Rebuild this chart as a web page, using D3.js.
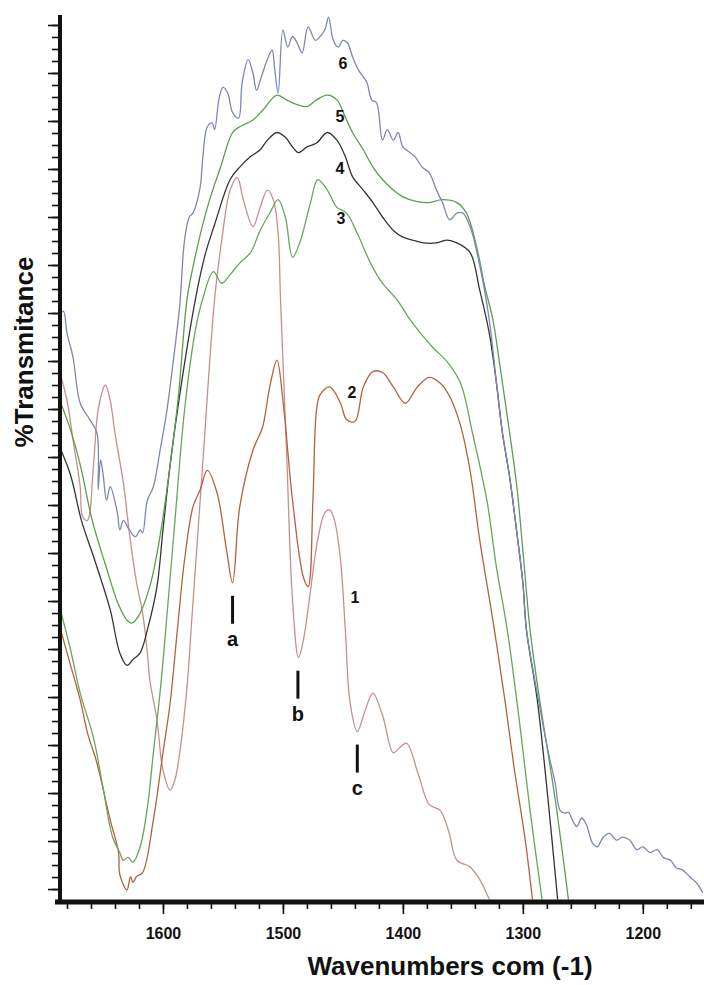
<!DOCTYPE html>
<html>
<head>
<meta charset="utf-8">
<script src="https://cdn.jsdelivr.net/npm/d3@7"></script>
<style>
  body { margin: 0; background: #fff; }
  svg { display: block; font-family: "Liberation Sans", Arial, sans-serif; }
</style>
</head>
<body>
<div id="chart"></div>
<script>
// wavenumber (cm-1), %T
var spectrum1 = [[1686,53.8],[1680,50.9],[1675,46.8],[1669,41.9],[1667,38.8],[1663,38.4],[1658,44.0],[1654,49.9],[1648,52.5],[1644,50.9],[1640,47.5],[1633,42.3],[1628,37.1],[1622,31.9],[1617,28.8],[1613,24.6],[1611,21.8],[1605,17.6],[1600,12.4],[1594,10.3],[1590,11.4],[1586,14.2],[1580,21.0],[1576,28.0],[1567,44.0],[1557,61.4],[1551,67.6],[1544,72.8],[1538,74.1],[1533,71.8],[1525,69.0],[1519,71.0],[1513,72.8],[1508,71.8],[1504,68.3],[1502,61.4],[1497,45.7],[1492,30.1],[1487,24.1],[1483,25.9],[1477,31.1],[1471,36.4],[1465,39.2],[1461,39.5],[1457,38.4],[1452,34.3],[1448,27.0],[1444,19.4],[1438,16.4],[1432,18.4],[1425,20.4],[1417,18.1],[1408,14.2],[1403,14.7],[1397,15.2],[1387,11.9],[1378,8.8],[1369,8.2],[1362,6.1],[1355,3.0],[1344,2.3],[1336,1.0],[1328,-1.1]];

var spectrum2 = [[1686,27.3],[1677,23.3],[1669,19.7],[1663,16.3],[1655,13.1],[1644,7.2],[1637,3.8],[1636,1.5],[1630,-0.1],[1627,1.3],[1625,0.7],[1622,1.3],[1617,1.7],[1608,7.2],[1600,14.2],[1594,19.4],[1588,27.0],[1582,34.3],[1575,39.8],[1569,41.6],[1563,43.6],[1555,41.3],[1547,35.3],[1542,31.9],[1536,39.8],[1525,45.7],[1517,48.1],[1511,52.3],[1505,55.1],[1500,50.9],[1492,40.5],[1483,32.5],[1479,31.5],[1475,40.5],[1472,49.9],[1469,51.5],[1461,52.3],[1452,50.6],[1447,48.9],[1440,48.7],[1433,52.3],[1425,53.9],[1417,53.8],[1408,52.3],[1398,50.6],[1388,52.3],[1378,53.3],[1369,52.7],[1361,51.3],[1352,48.3],[1344,43.6],[1336,36.4],[1325,28.0],[1315,19.7],[1307,12.4],[1298,5.1],[1292,-1.1]];

var spectrum3 = [[1686,29.3],[1677,24.9],[1669,20.4],[1658,15.8],[1650,10.6],[1642,5.4],[1636,3.8],[1633,3.0],[1629,3.3],[1625,2.8],[1619,4.4],[1613,8.5],[1608,14.2],[1602,21.0],[1597,28.0],[1590,38.4],[1582,49.9],[1573,58.2],[1567,61.4],[1558,64.3],[1551,63.1],[1544,64.0],[1536,65.2],[1527,66.3],[1519,68.6],[1511,70.4],[1504,71.8],[1498,70.0],[1492,65.8],[1486,67.3],[1477,71.5],[1471,73.9],[1463,72.8],[1455,71.0],[1447,70.4],[1438,68.3],[1427,65.2],[1417,63.1],[1405,61.4],[1394,59.3],[1386,58.0],[1375,56.4],[1363,54.9],[1352,52.7],[1342,47.5],[1330,40.5],[1322,33.5],[1313,27.0],[1302,16.6],[1294,8.2],[1284,-1.1]];

var spectrum4 = [[1686,46.0],[1677,43.1],[1668,38.4],[1657,34.3],[1644,29.1],[1636,24.6],[1630,23.3],[1625,23.9],[1619,24.6],[1613,27.0],[1605,31.5],[1600,37.4],[1594,44.2],[1586,51.5],[1573,61.4],[1565,66.0],[1557,69.2],[1544,73.9],[1536,75.2],[1527,76.3],[1519,77.0],[1513,78.0],[1505,78.8],[1498,78.3],[1492,77.3],[1487,76.7],[1480,77.3],[1472,77.7],[1463,78.8],[1455,78.0],[1448,76.3],[1442,74.2],[1433,72.8],[1425,71.5],[1417,70.0],[1408,68.6],[1400,67.9],[1392,67.6],[1383,67.3],[1372,67.3],[1363,67.6],[1355,67.3],[1344,66.3],[1336,62.4],[1328,57.9],[1322,52.7],[1317,47.5],[1311,42.9],[1305,37.1],[1300,31.9],[1297,27.0],[1288,19.7],[1279,9.3],[1271,-1.1]];

var spectrum5 = [[1686,50.9],[1677,47.8],[1669,44.2],[1659,38.4],[1648,33.8],[1637,29.6],[1630,28.0],[1626,27.7],[1621,28.3],[1611,31.5],[1602,37.1],[1594,44.2],[1587,51.5],[1580,61.4],[1575,64.8],[1563,71.0],[1552,75.2],[1542,78.8],[1536,79.4],[1525,80.1],[1517,81.1],[1505,82.7],[1497,82.2],[1488,81.7],[1480,81.5],[1472,82.2],[1463,82.7],[1455,82.2],[1448,80.4],[1442,78.8],[1433,77.0],[1425,75.2],[1417,73.9],[1408,72.8],[1400,72.1],[1388,71.6],[1378,71.5],[1367,71.8],[1355,71.5],[1347,70.4],[1338,66.6],[1332,62.9],[1325,59.3],[1319,54.4],[1311,47.5],[1305,41.9],[1300,35.3],[1294,27.0],[1286,19.7],[1273,9.3],[1262,-1.1]];

var spectrum6 = [[1686,59.8],[1683,60.2],[1680,57.9],[1675,55.4],[1669,50.6],[1661,48.9],[1655,47.5],[1654,41.6],[1652,44.7],[1650,43.3],[1647,40.5],[1644,41.9],[1638,39.2],[1636,37.4],[1633,38.4],[1628,37.4],[1623,36.7],[1619,37.4],[1617,37.1],[1613,40.5],[1608,41.9],[1602,46.0],[1597,49.6],[1592,54.4],[1586,60.8],[1582,67.6],[1578,70.0],[1575,70.4],[1569,73.1],[1567,75.9],[1563,79.4],[1559,79.8],[1557,79.1],[1553,82.5],[1550,83.5],[1546,82.9],[1542,80.9],[1537,80.3],[1534,84.0],[1529,86.4],[1525,85.0],[1522,83.2],[1518,84.6],[1513,86.4],[1509,87.4],[1507,85.6],[1504,82.9],[1500,89.5],[1496,87.7],[1492,88.8],[1488,88.1],[1484,87.1],[1479,89.8],[1473,88.4],[1469,88.8],[1465,89.5],[1462,90.8],[1458,88.4],[1454,87.7],[1450,88.4],[1446,88.1],[1442,86.7],[1437,85.3],[1433,84.6],[1430,84.0],[1426,82.2],[1422,81.9],[1417,78.0],[1413,79.1],[1408,78.0],[1404,78.8],[1400,77.3],[1394,76.7],[1390,76.3],[1384,75.2],[1378,74.6],[1372,72.8],[1367,71.5],[1361,69.7],[1355,70.4],[1350,70.4],[1344,69.0],[1336,65.0],[1328,59.3],[1322,52.7],[1317,47.5],[1311,42.9],[1305,37.1],[1300,31.9],[1297,27.0],[1287,19.7],[1282,16.3],[1278,13.8],[1273,11.0],[1269,8.2],[1265,7.9],[1262,8.0],[1258,7.0],[1255,6.5],[1251,7.4],[1247,6.7],[1242,4.8],[1238,4.4],[1233,5.4],[1228,5.8],[1222,5.1],[1217,5.4],[1211,5.1],[1205,4.1],[1200,4.4],[1194,3.8],[1188,4.1],[1183,3.3],[1177,3.0],[1172,2.2],[1167,2.0],[1161,1.3],[1155,0.6],[1150,-0.4]];

var spectra = [spectrum1, spectrum2, spectrum3, spectrum4, spectrum5, spectrum6];
var spectrumNames = ["1", "2", "3", "4", "5", "6"];
var spectrumColors = ["#c98e8c", "#b4613e", "#69a55a", "#2f372f", "#5e9c4f", "#7c87b4"];
// where the curve numbers sit (wavenumber, %T)
var nameLabelPos = [[1440,30.4],[1442.5,51.8],[1451.7,69.9],[1452.5,75.1],[1452.5,80.5],[1450,86.0]];

// marked bands a, b, c (wavenumber, %T at the minimum)
var bandNames = ["a", "b", "c"];
var bandPos = [[1542,31.9],[1487.5,24.1],[1438,16.4]];

var xMajorTicks = [1600, 1500, 1400, 1300, 1200];
var xMinorTicks = d3.range(1680, 1150, -20);
var yMajorTicks = d3.range(0, 90.1, 5);
var yMinorTicks = d3.range(0, 90.1, 1.25);

var width = 704, height = 985;

var svg = d3.select("#chart").append("svg")
    .attr("width", width)
    .attr("height", height);

var x = d3.scaleLinear().domain([1690, 1149]).range([55, 704]);
var y = d3.scaleLinear().domain([-1.35, 91.04]).range([902, 15]);

// clip so the curves stop on the axis
svg.append("defs").append("clipPath").attr("id", "plot")
    .append("rect").attr("x", 61).attr("y", 0).attr("width", 650).attr("height", 900);

var line = d3.line()
    .x(d => x(d[0]))
    .y(d => y(d[1]))
    .curve(d3.curveCatmullRom.alpha(0.5));

svg.append("g")
    .attr("clip-path", "url(#plot)")
    .selectAll("path")
    .data(spectra)
    .enter()
    .append("path")
    .attr("d", d => line(d))
    .attr("fill", "none")
    .attr("stroke", (d, i) => spectrumColors[i])
    .attr("stroke-width", 1.3);

// curve numbers
svg.append("g")
    .selectAll("text")
    .data(nameLabelPos)
    .enter()
    .append("text")
    .attr("x", d => x(d[0]))
    .attr("y", d => y(d[1]) + 6)
    .attr("text-anchor", "middle")
    .attr("font-size", 16)
    .attr("font-weight", "bold")
    .attr("fill", "#111")
    .text((d, i) => spectrumNames[i]);

// band markers
var bands = svg.append("g");
bands.selectAll("line")
    .data(bandPos)
    .enter()
    .append("line")
    .attr("x1", d => x(d[0]))
    .attr("x2", d => x(d[0]))
    .attr("y1", d => y(d[1]) + 13)
    .attr("y2", d => y(d[1]) + 41)
    .attr("stroke", "#111")
    .attr("stroke-width", 3);
bands.selectAll("text")
    .data(bandPos)
    .enter()
    .append("text")
    .attr("x", d => x(d[0]))
    .attr("y", d => y(d[1]) + 63)
    .attr("text-anchor", "middle")
    .attr("font-size", 20)
    .attr("font-weight", "bold")
    .attr("fill", "#111")
    .text((d, i) => bandNames[i]);

// y axis: minor and major ticks, no labels
svg.append("g")
    .attr("transform", "translate(60,0)")
    .call(d3.axisLeft(y).tickValues(yMinorTicks).tickSize(8).tickSizeOuter(0).tickFormat(""))
    .call(g => g.select(".domain").remove())
    .selectAll("line").attr("stroke", "#111").attr("stroke-width", 1.6);
svg.append("g")
    .attr("transform", "translate(60,0)")
    .call(d3.axisLeft(y).tickValues(yMajorTicks).tickSize(12).tickSizeOuter(0).tickFormat(""))
    .call(g => g.select(".domain").remove())
    .selectAll("line").attr("stroke", "#111").attr("stroke-width", 1.6);
svg.append("line")
    .attr("x1", 60).attr("x2", 60)
    .attr("y1", 15).attr("y2", 904)
    .attr("stroke", "#111")
    .attr("stroke-width", 4);

// x axis
svg.append("g")
    .attr("transform", "translate(0,902)")
    .call(d3.axisBottom(x).tickValues(xMinorTicks).tickSize(7).tickSizeOuter(0).tickFormat(""))
    .call(g => g.select(".domain").remove())
    .selectAll("line").attr("stroke", "#111").attr("stroke-width", 1.6);
var xAxis = svg.append("g")
    .attr("transform", "translate(0,902)")
    .call(d3.axisBottom(x).tickValues(xMajorTicks).tickSize(12).tickSizeOuter(0).tickPadding(14).tickFormat(d3.format("d")));
xAxis.select(".domain").remove();
xAxis.selectAll("line").attr("stroke", "#111").attr("stroke-width", 1.6);
xAxis.selectAll("text")
    .attr("font-family", "Liberation Sans, Arial, sans-serif")
    .attr("font-size", 16)
    .attr("font-weight", "bold")
    .attr("fill", "#111");
svg.append("line")
    .attr("x1", 55).attr("x2", 704)
    .attr("y1", 902).attr("y2", 902)
    .attr("stroke", "#111")
    .attr("stroke-width", 5);

// titles
svg.append("text")
    .attr("x", 450)
    .attr("y", 975)
    .attr("text-anchor", "middle")
    .attr("font-size", 26)
    .attr("font-weight", "bold")
    .attr("fill", "#111")
    .text("Wavenumbers com (-1)");

svg.append("text")
    .attr("transform", "translate(33,352) rotate(-90)")
    .attr("text-anchor", "middle")
    .attr("font-size", 26)
    .attr("font-weight", "bold")
    .attr("fill", "#111")
    .text("%Transmitance");
</script>
</body>
</html>
